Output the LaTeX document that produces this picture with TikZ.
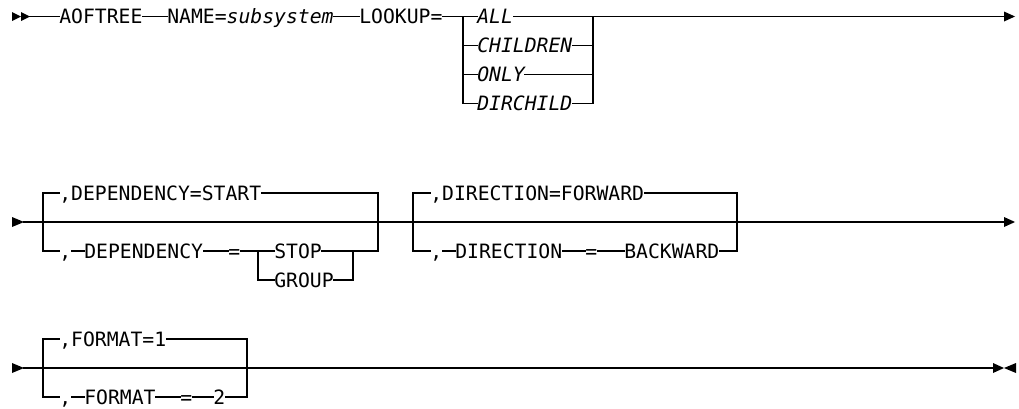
\documentclass[tikz,border=0pt]{standalone}
\usepackage{fontspec}
\setmainfont{DejaVu Sans Mono}
\begin{document}
\begin{tikzpicture}[x=0.75pt,y=-0.75pt,
  kw/.style={inner sep=0pt, anchor=west, text height=10.8pt, text depth=0pt, font=\fontsize{14.8}{16}\selectfont},
  var/.style={kw, font=\fontsize{14.8}{16}\selectfont\itshape},
  rail/.style={line width=1pt, line cap=rect}]
\useasboundingbox (0,0) rectangle (1019,408);
% ---------------- Row 1 ----------------
\coordinate (s1) at (12,16.5);
\fill (s1) +(0,-4.5) -- +(9,0) -- +(0,4.5) -- cycle;
\fill (s1) +(9,-4.5) -- +(18,0) -- +(9,4.5) -- cycle;
\coordinate (a1) at (30,16.5);
\node[kw] (aof) at (59,16.5) {AOFTREE};
\node[kw] (name) at (167,16.5) {NAME=\textit{subsystem}};
\node[kw] (look) at (359,16.5) {LOOKUP=};
\node[var] (all) at (477,16.5) {ALL};
\node[var] (chi) at (477,45.5) {CHILDREN};
\node[var] (only) at (477,74.5) {ONLY};
\node[var] (dirch) at (477,103.5) {DIRCHILD};
\coordinate (bl) at (463,16.5);
\coordinate (br) at (593,16.5);
\coordinate (e1) at (1004,16.5);
\draw[rail] (a1) -- (aof.west);
\draw[rail] (aof.east) -- (name.west);
\draw[rail] (name.east) -- (look.west);
\draw[rail] (look.east) -- (all.west);
\draw[rail] (all.east) -- (e1);
\draw[rail] (bl) |- (chi.west);
\draw[rail] (bl) |- (only.west);
\draw[rail] (bl) |- (dirch.west);
\draw[rail] (chi.east) -| (br);
\draw[rail] (only.east) -| (br);
\draw[rail] (dirch.east) -| (br);
\fill (e1) +(0,-5) -- +(11,0) -- +(0,5) -- cycle;
% ---------------- Row 2 ----------------
\coordinate (s2) at (12,222);
\fill (s2) +(0,-5) -- +(12,0) -- +(0,5) -- cycle;
\coordinate (m2) at (24,222);
\coordinate (e2) at (1004,222);
\draw[rail] (m2) -- (e2);
\fill (e2) +(0,-5) -- +(11,0) -- +(0,5) -- cycle;
% dependency block
\coordinate (dl) at (43,193);
\coordinate (dr) at (378,193);
\coordinate (gl) at (258,251);
\coordinate (gr) at (353,251);
\node[kw] (dstart) at (59,193) {,DEPENDENCY=START};
\node[kw] (dc) at (59,251) {,};
\node[kw] (dkw) at (84,251) {DEPENDENCY};
\node[kw] (deq) at (228,251) {=};
\node[kw] (stop) at (274,251) {STOP};
\node[kw] (group) at (274,280) {GROUP};
\draw[rail] (dstart.west) -- (dl) |- (dc.west);
\draw[rail] (dstart.east) -- (dr) |- (stop.east);
\draw[rail] (dc.east) -- (dkw.west);
\draw[rail] (dkw.east) -- (deq.west);
\draw[rail] (deq.east) -- (stop.west);
\draw[rail] (gl) |- (group.west);
\draw[rail] (group.east) -| (gr);
% direction block
\coordinate (rl) at (413,193);
\coordinate (rr) at (737,193);
\node[kw] (fwd) at (430,193) {,DIRECTION=FORWARD};
\node[kw] (rc) at (430,251) {,};
\node[kw] (rkw) at (455,251) {DIRECTION};
\node[kw] (req) at (585,251) {=};
\node[kw] (back) at (624,251) {BACKWARD};
\draw[rail] (fwd.west) -- (rl) |- (rc.west);
\draw[rail] (fwd.east) -- (rr) |- (back.east);
\draw[rail] (rc.east) -- (rkw.west);
\draw[rail] (rkw.east) -- (req.west);
\draw[rail] (req.east) -- (back.west);
% ---------------- Row 3 ----------------
\coordinate (s3) at (12,368);
\fill (s3) +(0,-5) -- +(12,0) -- +(0,5) -- cycle;
\coordinate (m3) at (24,368);
\coordinate (e3) at (993,368);
\draw[rail] (m3) -- (e3);
\fill (e3) +(0,-5) -- +(11,0) -- +(0,5) -- cycle;
\fill (e3) +(23,-5) -- +(11,0) -- +(23,5) -- cycle;
\coordinate (fl) at (43,339);
\coordinate (fr) at (247,339);
\node[kw] (fmt) at (59,339) {,FORMAT=1};
\node[kw] (fc) at (59,397) {,};
\node[kw] (fkw) at (84,397) {FORMAT};
\node[kw] (feq) at (180,397) {=};
\node[kw] (ftwo) at (213,397) {2};
\draw[rail] (fmt.west) -- (fl) |- (fc.west);
\draw[rail] (fmt.east) -- (fr) |- (ftwo.east);
\draw[rail] (fc.east) -- (fkw.west);
\draw[rail] (fkw.east) -- (feq.west);
\draw[rail] (feq.east) -- (ftwo.west);
\end{tikzpicture}
\end{document}
